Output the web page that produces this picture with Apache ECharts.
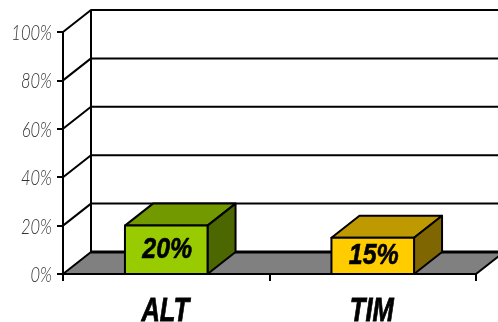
<!DOCTYPE html>
<html><head><meta charset="utf-8">
<script src="https://cdn.jsdelivr.net/npm/echarts@6/dist/echarts.min.js"></script>
<style>html,body{margin:0;padding:0;background:#fff}#c{width:498px;height:322px}</style></head>
<body><div id="c"></div>
<script>
const categories = ["ALT", "TIM"];
const values = [20, 15];
const tickValues = [0, 20, 40, 60, 80, 100];
const faceColors = ["#99CC00", "#FFCC00"];
const topColors = ["#729900", "#BF9900"];
const sideColors = ["#4C6600", "#7F6600"];
const depthX = 28, depthY = -22, barRatio = 0.4;
const chart = echarts.init(document.getElementById('c'), null, {renderer:'canvas'});
const lineStyle = (w) => ({stroke:'#000', lineWidth:w, fill:null, lineJoin:'round'});
const heavy = (size) => 'italic bold '+size+'px "Liberation Sans"';
chart.setOption({
  animation:false,
  backgroundColor:'#fff',
  grid:{left:63,right:22,top:32,bottom:48,containLabel:false,outerBoundsMode:'none'},
  xAxis:{type:'category',data:categories,z:20,
    axisLine:{show:true,onZero:false,lineStyle:{color:'#000',width:2}},
    axisTick:{show:true,length:7,alignWithLabel:false,lineStyle:{color:'#000',width:2}},
    axisLabel:{show:false}},
  yAxis:{type:'value',min:0,max:100,interval:20,z:20,
    splitLine:{show:false},
    axisLine:{show:true,lineStyle:{color:'#000',width:2}},
    axisTick:{show:true,length:6,lineStyle:{color:'#000',width:2}},
    axisLabel:{show:false}},
  series:[
    {type:'custom',z:1,clip:false,silent:true,data:[[0,0]],encode:{x:0,y:1},
     renderItem(p,api){
       const cs=p.coordSys, y0=api.coord([0,0])[1], L=cs.x, R=cs.x+cs.width;
       return {type:'group',children:[
         {type:'polygon',shape:{points:[[L,y0],[L+depthX,y0+depthY],[R+depthX,y0+depthY],[R,y0]]},style:{fill:'#808080',stroke:null}},
         {type:'line',shape:{x1:L+depthX,y1:y0+depthY,x2:R+depthX,y2:y0+depthY},style:lineStyle(3)},
         {type:'line',shape:{x1:R,y1:y0,x2:R+depthX,y2:y0+depthY},style:lineStyle(2)},
         {type:'line',shape:{x1:L+depthX,y1:cs.y+depthY,x2:L+depthX,y2:y0+depthY},style:lineStyle(2)}
       ]};
     }},
    {type:'custom',z:2,clip:false,silent:true,data:tickValues.map(v=>[0,v]),encode:{x:0,y:1},
     renderItem(p,api){
       const cs=p.coordSys, v=api.value(1), y=api.coord([0,v])[1], L=cs.x, R=cs.x+cs.width;
       return {type:'group',children:[
         {type:'polyline',shape:{points:[[L,y],[L+depthX,y+depthY],[R+depthX,y+depthY]]},style:lineStyle(2)},
         {type:'text',x:L-11,y:y+1,scaleX:0.75,style:{text:v+'%',fill:'#333',align:'right',verticalAlign:'middle',
           font:'italic 300 22px Lato'}}
       ]};
     }},
    {type:'custom',z:5,clip:false,silent:true,data:values.map((v,i)=>[i,v]),encode:{x:0,y:1},
     renderItem(p,api){
       const i=api.value(0), v=api.value(1), c=api.coord([i,v]), b=api.coord([i,0]);
       const w=api.size([1,0])[0]*barRatio, x0=c[0]-w/2, x1=c[0]+w/2, yt=c[1], yb=b[1];
       const dx=depthX, dy=depthY;
       const st=(f)=>({fill:f,stroke:'#000',lineWidth:2,lineJoin:'round'});
       return {type:'group',children:[
         {type:'polygon',shape:{points:[[x0,yt],[x0+dx,yt+dy],[x1+dx,yt+dy],[x1,yt]]},style:st(topColors[i])},
         {type:'polygon',shape:{points:[[x1,yt],[x1+dx,yt+dy],[x1+dx,yb+dy],[x1,yb]]},style:st(sideColors[i])},
         {type:'rect',shape:{x:x0,y:yt,width:w,height:yb-yt},style:st(faceColors[i])},
         {type:'text',x:c[0]+1,y:(yt+yb)/2,scaleX:0.86,style:{text:v+'%',fill:'#000',stroke:'#000',lineWidth:0.6,align:'center',verticalAlign:'middle',
           font:heavy(29)}},
         {type:'text',x:c[0]-1,y:yb+38,scaleX:0.75,style:{text:categories[i],fill:'#000',stroke:'#000',lineWidth:0.8,align:'center',verticalAlign:'middle',
           font:heavy(34)}}
       ]};
     }}
  ]
});
</script></body></html>
